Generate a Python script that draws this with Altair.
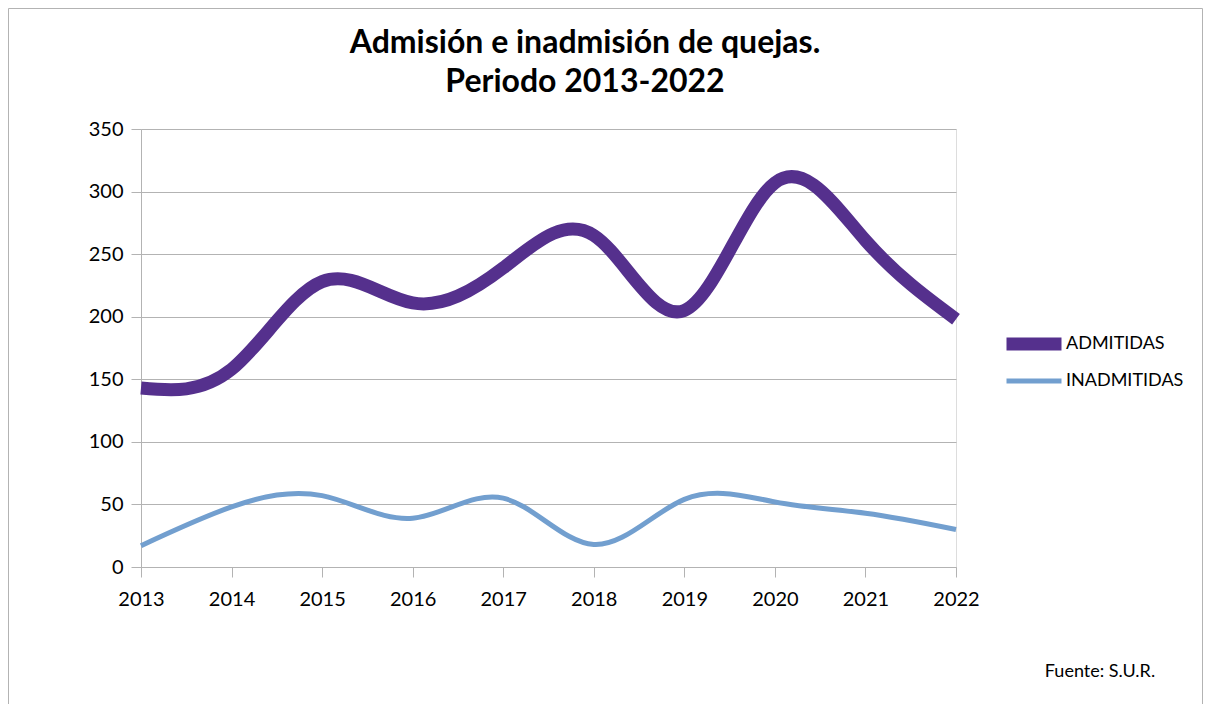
import altair as alt
import pandas as pd

years = [2013, 2014, 2015, 2016, 2017, 2018, 2019, 2020, 2021, 2022]
admitidas = [143, 158, 228, 211, 239, 265, 205, 307, 261, 198]
inadmitidas = [17, 48, 57, 39, 55, 18, 54, 52, 43, 30]
series_names = ["ADMITIDAS", "INADMITIDAS"]
series_colors = ["#55308d", "#729fcf"]
series_widths = [13, 5]
y_ticks = [0, 50, 100, 150, 200, 250, 300, 350]
title_lines = ["Admisión e inadmisión de quejas.", "Periodo 2013-2022"]
source_text = ["Fuente: S.U.R."]

rows = []
for name, vals in zip(series_names, [admitidas, inadmitidas]):
    for yr, v in zip(years, vals):
        rows.append({"year": yr, "value": v, "serie": name})
df = pd.DataFrame(rows)

FONT = "Lato"
W, H = 815, 438
PAD = {"left": 133, "top": 121, "right": 247, "bottom": 141}

legend_cfg = dict(title=None, orient="none", legendX=878, legendY=200,
                  symbolType="M-3.235,0H3.235", symbolSize=289,
                  labelFont=FONT, labelFontSize=18, labelColor="#000000",
                  labelOffset=17, rowPadding=0)

lines = alt.Chart(df).mark_line(interpolate="natural", strokeCap="butt").encode(
    x=alt.X("year:Q", scale=alt.Scale(domain=[2013, 2022], nice=False, zero=False),
            axis=alt.Axis(values=years, format="d", title=None, grid=False,
                          tickSize=10, tickColor="#b3b3b3", domainColor="#b3b3b3",
                          labelFontSize=20, labelFont=FONT, labelColor="#000000",
                          labelPadding=12, labelFlush=False)),
    y=alt.Y("value:Q", scale=alt.Scale(domain=[0, 350], nice=False),
            axis=alt.Axis(values=y_ticks, title=None, grid=True, gridColor="#b3b3b3",
                          tickSize=10, tickColor="#b3b3b3", domainColor="#b3b3b3",
                          labelFontSize=20, labelFont=FONT, labelColor="#000000",
                          labelPadding=8)),
    color=alt.Color("serie:N", scale=alt.Scale(domain=series_names, range=series_colors),
                    legend=alt.Legend(**legend_cfg)),
    strokeWidth=alt.StrokeWidth("serie:N", scale=alt.Scale(domain=series_names, range=series_widths),
                                legend=alt.Legend(**legend_cfg)),
)

border = alt.Chart(pd.DataFrame({"a": [0]})).mark_rect(
    fill=None, stroke="#b3b3b3", strokeWidth=1
).encode(
    x=alt.value(-PAD["left"] + 0.5), x2=alt.value(W + PAD["right"] - 0.5),
    y=alt.value(-PAD["top"] + 0.5), y2=alt.value(H + PAD["bottom"] + 40),
)

title1 = alt.Chart(pd.DataFrame({"t": title_lines[:1]})).mark_text(
    font=FONT, fontSize=32, fontWeight="bold", color="#000000", align="center", baseline="alphabetic"
).encode(x=alt.value(444), y=alt.value(-76), text="t:N")
title2 = alt.Chart(pd.DataFrame({"t": title_lines[1:]})).mark_text(
    font=FONT, fontSize=32, fontWeight="bold", color="#000000", align="center", baseline="alphabetic"
).encode(x=alt.value(444), y=alt.value(-37), text="t:N")

source = alt.Chart(pd.DataFrame({"t": source_text})).mark_text(
    font=FONT, fontSize=18, color="#000000", align="center", baseline="middle"
).encode(x=alt.value(959), y=alt.value(543), text="t:N")

chart = alt.layer(border, lines, title1, title2, source).properties(
    width=W, height=H,
    padding=PAD,
    autosize=alt.AutoSizeParams(type="none"),
).configure_view(stroke="#b3b3b3", strokeWidth=1).configure(background="white")

chart.save("out.html", embed_options={"renderer": "svg", "actions": False})
